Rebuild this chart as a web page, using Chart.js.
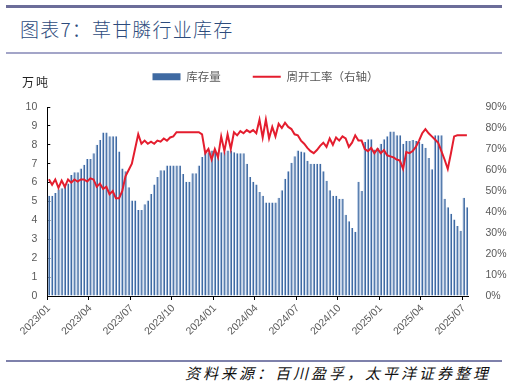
<!DOCTYPE html>
<html>
<head>
<meta charset="utf-8">
<script src="https://cdn.jsdelivr.net/npm/chart.js@4.4.1/dist/chart.umd.min.js"></script>
<style>
  body { margin: 0; width: 507px; height: 388px; background: #fff; position: relative; overflow: hidden; font-family: "Noto Sans CJK SC", sans-serif; }
  #topline { position: absolute; left: 6px; top: 5px; width: 496px; height: 3px; background: #6c6d99; }
  #title { position: absolute; left: 20px; top: 16px; font-size: 19px; color: #2d4b7c; letter-spacing: 1.2px; line-height: 26px; font-weight: 300; }
  #titleline { position: absolute; left: 6px; top: 52px; width: 496px; height: 2px; background: #a3a5c8; }
  #unit { position: absolute; left: 22px; top: 74px; font-size: 12px; color: #222; letter-spacing: 2px; line-height: 16px; }
  #wrap { position: absolute; left: 0; top: 39px; width: 507px; height: 311px; }
  #footline { position: absolute; left: 6px; top: 360px; width: 496px; height: 2px; background: #7e81ab; }
  #source { position: absolute; right: 16px; top: 362px; font-size: 15px; font-style: italic; letter-spacing: 3px; color: #111; line-height: 22px; }
</style>
</head>
<body>
<div id="topline"></div>
<div id="title">图表7：草甘膦行业库存</div>
<div id="titleline"></div>
<div id="wrap"><canvas id="chart" width="507" height="311"></canvas></div>
<div id="unit">万吨</div>
<div id="footline"></div>
<div id="source">资料来源：百川盈孚，太平洋证券整理</div>
<script>
// weekly data, 2023/01 - 2025/07
var tickLabels = ["2023/01", "2023/04", "2023/07", "2023/10", "2024/01", "2024/04",
  "2024/07", "2024/10", "2025/01", "2025/04", "2025/07"];

// 库存量 (万吨)
var inventory = [
  5.3, 5.3, 5.45, 5.65, 5.7, 5.85, 5.95, 6.4, 6.55, 6.55,
  6.75, 6.95, 7.25, 7.25, 7.55, 8.0, 8.25, 8.65, 8.65, 8.45,
  8.45, 8.45, 7.65, 6.75, 6.6, 5.75, 5.05, 5.05, 4.55, 4.55,
  4.85, 5.05, 5.4, 5.9, 6.3, 6.65, 6.65, 6.9, 6.9, 6.9,
  6.9, 6.9, 6.45, 6.05, 6.05, 6.5, 6.5, 6.9, 7.35, 7.6,
  7.6, 7.7, 7.7, 7.6, 7.6, 7.6, 7.7, 7.7, 7.6, 7.55,
  7.55, 7.55, 7.0, 6.3, 6.05, 5.9, 5.5, 5.3, 4.95, 4.95,
  4.95, 4.95, 5.2, 5.6, 6.2, 6.6, 7.05, 7.4, 7.7, 7.65,
  7.6, 7.15, 7.0, 7.0, 7.0, 7.0, 6.6, 6.1, 5.6, 5.3,
  5.3, 5.15, 5.15, 4.3, 3.95, 3.6, 3.4, 6.05, 5.55, 8.15,
  8.3, 8.3, 7.75, 7.85, 8.05, 8.3, 8.45, 8.7, 8.7, 8.5,
  8.5, 8.05, 8.2, 8.2, 8.25, 8.2, 8.15, 8.05, 7.85, 7.3,
  6.7, 8.5, 8.5, 8.5, 5.15, 4.7, 4.35, 4.05, 3.7, 3.45,
  5.2, 4.7
];

// 周开工率 (%)
var operatingRate = [
  55.6, 53, 55.5, 51.5, 55, 52, 55.5, 54, 55.5, 54.5,
  55.5, 55.5, 54.5, 56, 55.5, 52, 53.5, 51, 52, 48.5,
  50, 46.5, 46.5, 50, 57, 60, 63, 70, 77, 72.5,
  74, 72.5, 73.5, 72.5, 74, 73.5, 75, 74, 75.5, 76,
  78, 78, 78, 78, 78, 78, 78, 78, 77, 68,
  70, 65, 70, 66, 76, 69, 77, 70, 78, 76.5,
  78.5, 77.5, 79, 78, 79, 77.5, 84, 75.5, 84, 75,
  80.5, 76, 82, 80, 82.5, 80.5, 79.5, 77, 76.5, 74,
  72.5, 70.5, 69, 68, 69.5, 71.5, 73, 71, 75, 72,
  75.5, 74, 76, 75, 71, 73, 76.5, 74, 74, 70,
  69, 70.5, 68, 70, 68, 69.5, 67, 66.5, 66, 65,
  64.5, 60.5, 68.5, 68, 69, 71, 74, 77.5, 79.5, 77.5,
  76, 74.5, 73, 69, 65, 60.5, 68, 76, 76.5, 76.5,
  76.5, 76.5
];

var weeks = [];
var start = new Date(2023, 0, 6);
for (var i = 0; i < inventory.length; i++) {
  var d = new Date(start.getTime() + i * 7 * 86400000);
  weeks.push(d.getFullYear() + "/" + (d.getMonth() + 1) + "/" + d.getDate());
}

var barColor = "#3f6aa2";
var lineColor = "#e41d2e";
var tickFont = { family: "'Liberation Sans', Arial, sans-serif", size: 10.5 };

var chart = new Chart(document.getElementById("chart"), {
  data: {
    labels: weeks,
    datasets: [{
        type: "bar",
        label: "库存量",
        data: inventory,
        backgroundColor: barColor,
        borderColor: "#9fb8dc",
        borderWidth: { left: 1, right: 0, top: 0, bottom: 0 },
        borderSkipped: false,
        barPercentage: 0.78,
        categoryPercentage: 1.0,
        xAxisID: "x",
        yAxisID: "y",
        order: 2
      }, {
        type: "line",
        label: "周开工率（右轴）",
        data: operatingRate,
        borderColor: lineColor,
        borderWidth: 2,
        pointRadius: 0,
        tension: 0,
        xAxisID: "x",
        yAxisID: "y1",
        order: 1
      }
    ]
  },
  options: {
    responsive: false,
    animation: false,
    layout: { padding: { left: 24, right: 0, top: 0, bottom: 0 } },
    plugins: {
      tooltip: { enabled: false },
      legend: {
        display: true,
        position: "top",
        labels: {
          usePointStyle: true,
          pointStyleWidth: 28,
          boxHeight: 7,
          padding: 32,
          color: "#595959",
          font: { family: "'Noto Sans CJK SC', sans-serif", size: 11.5 },
          sort: function (a, b) { return a.datasetIndex - b.datasetIndex; },
          generateLabels: function (c) {
            var items = Chart.defaults.plugins.legend.labels.generateLabels(c);
            items.forEach(function (it) {
              if (it.datasetIndex === 0) {
                it.pointStyle = "rect";
                it.fillStyle = barColor;
                it.strokeStyle = barColor;
                it.lineWidth = 0;
              } else {
                it.pointStyle = "line";
                it.strokeStyle = lineColor;
                it.lineWidth = 2;
              }
            });
            return items;
          }
        }
      }
    },
    scales: {
      x: {
        type: "category",
        position: "bottom",
        offset: true,
        grid: {
          offset: true,
          drawOnChartArea: false,
          tickLength: 4,
          color: function (ctx) { return ctx.index % 13 === 0 ? "#000" : "rgba(0,0,0,0)"; }
        },
        border: { display: true, color: "#000", width: 1 },
        ticks: {
          autoSkip: false,
          maxRotation: 45,
          minRotation: 45,
          padding: 2,
          color: "#595959",
          font: tickFont,
          callback: function (v, i) { return i % 13 === 0 ? tickLabels[i / 13] : ""; }
        },
        afterFit: function (s) { s.height = 54; }
      },
      xTop: {
        type: "category",
        position: "top",
        grid: { display: false, drawTicks: false },
        border: { display: false },
        ticks: { display: false },
        afterFit: function (s) { s.height = 14.5; }
      },
      y: {
        type: "linear",
        position: "left",
        min: 0,
        max: 10,
        ticks: { stepSize: 1, padding: 13, color: "#595959", font: tickFont },
        grid: { drawOnChartArea: false, tickLength: -3, color: "#000" },
        border: { display: true, color: "#000", width: 1 },
        afterFit: function (s) { s.width = 23.3; }
      },
      y1: {
        type: "linear",
        position: "right",
        min: 0,
        max: 90,
        ticks: {
          stepSize: 10, padding: 9, color: "#595959", font: tickFont,
          callback: function (v) { return v + "%"; }
        },
        grid: { display: false },
        border: { display: false },
        afterFit: function (s) { s.width = 38.5; }
      }
    }
  }
});
</script>
</body>
</html>
